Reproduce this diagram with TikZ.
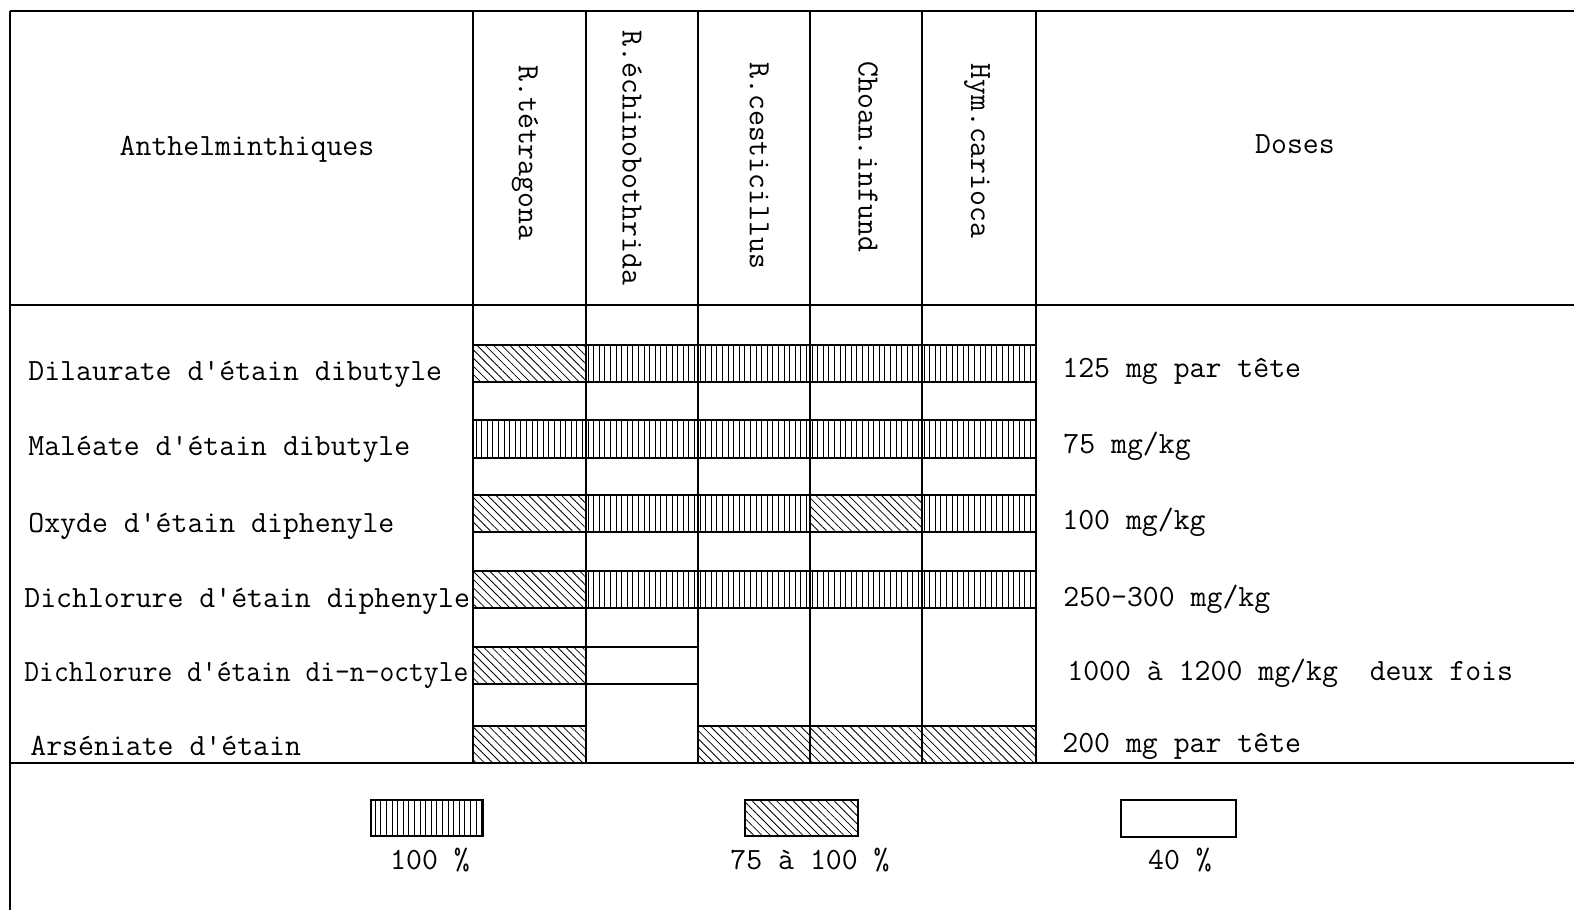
\documentclass[tikz,border=0pt]{standalone}
\usetikzlibrary{patterns.meta}
\begin{document}
\begin{tikzpicture}[x=0.5pt,y=-0.5pt,
  every node/.style={font=\fontsize{15.45}{18}\selectfont\ttfamily, inner sep=0pt},
  rule/.style={line width=1.1pt},
  cellbox/.style={draw, line width=0.9pt},
  full/.style={cellbox, pattern={Lines[angle=90,distance=2.8pt,line width=0.45pt]}},
  part/.style={cellbox, pattern={Lines[angle=-45,distance=2.9pt,line width=0.4pt]}},
  low/.style={cellbox},
  lab/.style={anchor=base west},
  vlab/.style={rotate=-90, anchor=west}]
\useasboundingbox (0,0) rectangle (1574,910);
% table rules
\draw[rule] (10,11) -- (1574,11);
\draw[rule] (10,305) -- (1574,305);
\draw[rule] (10,763) -- (1574,763);
\draw[rule] (10,11) -- (10,910);
\foreach \x in {473,586,698,810,922,1036} \draw[rule] (\x,11) -- (\x,763);
% header
\node (hA) at (247,149) {Anthelminthiques};
\node (hD) at (1295,144) {Doses};
\node[vlab] (s1) at (525,65) {R.tétragona};
\node[vlab] (s2) at (632,30) {R.échinobothrida};
\node[vlab] (s3) at (759,62) {R.cesticillus};
\node[vlab] (s4) at (868,61) {Choan.infund};
\node[vlab] (s5) at (977,63) {Hym.carioca};
% row labels
\node[lab] (a1) at (28,380) {Dilaurate d'étain dibutyle};
\node[lab] (a2) at (28,455) {Maléate d'étain dibutyle};
\node[lab] (a3) at (28,532) {Oxyde d'étain diphenyle};
\node[lab] (a4) at (24,607) {Dichlorure d'étain diphenyle};
\node[lab] (a5) at (24,681) {\scalebox{0.93}[1]{Dichlorure d'étain di-n-octyle}};
\node[lab] (a6) at (30,755) {Arséniate d'étain};
% doses
\node[lab] (d1) at (1062,377) {125 mg par tête};
\node[lab] (d2) at (1063,453) {75 mg/kg};
\node[lab] (d3) at (1062,529) {100 mg/kg};
\node[lab] (d4) at (1063,606) {250-300 mg/kg};
\node[lab] (d5) at (1067,680) {1000 à 1200 mg/kg\ \ deux fois};
\node[lab] (d6) at (1062,752) {200 mg par tête};
% bars: row 1
\draw[part] (473,345) rectangle (586,382);
\foreach \a/\b in {586/698,698/810,810/922,922/1036} \draw[full] (\a,345) rectangle (\b,382);
% row 2
\foreach \a/\b in {473/586,586/698,698/810,810/922,922/1036} \draw[full] (\a,420) rectangle (\b,458);
% row 3
\draw[part] (473,495) rectangle (586,532);
\draw[full] (586,495) rectangle (698,532);
\draw[full] (698,495) rectangle (810,532);
\draw[part] (810,495) rectangle (922,532);
\draw[full] (922,495) rectangle (1036,532);
% row 4
\draw[part] (473,571) rectangle (586,608);
\foreach \a/\b in {586/698,698/810,810/922,922/1036} \draw[full] (\a,571) rectangle (\b,608);
% row 5
\draw[part] (473,647) rectangle (586,684);
\draw[low] (586,647) rectangle (698,684);
% row 6
\draw[part] (473,726) rectangle (586,763);
\foreach \a/\b in {698/810,810/922,922/1036} \draw[part] (\a,726) rectangle (\b,763);
% legend
\draw[full] (371,800) rectangle (483,836);
\draw[part] (745,800) rectangle (858,836);
\draw[low] (1121,800) rectangle (1236,837);
\node (l1) at (430,860) {100 \%};
\node (l2) at (810,860) {75 à 100 \%};
\node (l3) at (1180,860) {40 \%};
\end{tikzpicture}
\end{document}
